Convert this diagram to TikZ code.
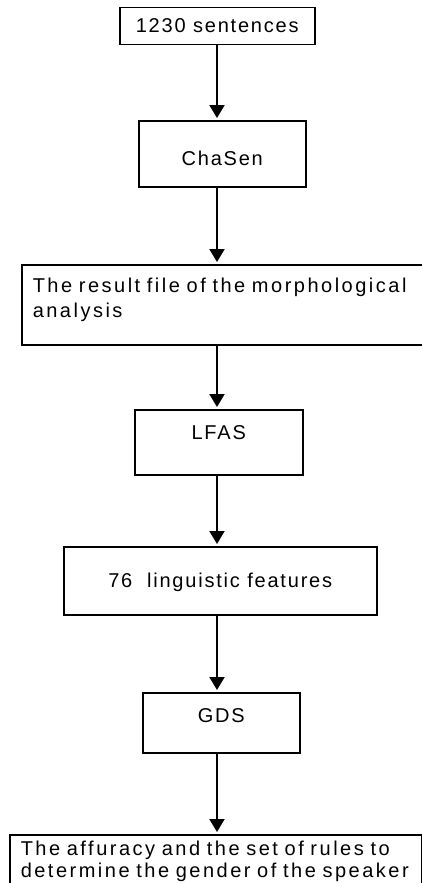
\documentclass[tikz,border=0pt]{standalone}
\usepackage{fontspec}
\setmainfont{Liberation Sans}[LetterSpace=9]
\usetikzlibrary{arrows.meta,
positioning}

\begin{document}
\begin{tikzpicture}[
    x=1pt, y=-1pt,
    >={Triangle[width=15pt,length=13pt]},
    box/.style={
        draw,
        line width=1.5pt,
        anchor=north west,
        inner xsep=0pt,
        inner ysep=0pt,
        font=\fontsize{20}{24}\selectfont
    },
    wide/.style={
        box,
        align=left,
        inner xsep=11pt,
        font=\fontsize{20}{#1}\selectfont\addfontfeature{LetterSpace=12.5}
    },
    flow/.style={->, line width=2pt, shorten >=2pt}
]
\useasboundingbox (0,0) rectangle (422,883);

\node[box, minimum width=195pt, text height=24.7pt, text depth=12.3pt] (sentences) at (119,7) {1230 sentences};

\node[box, minimum width=167pt, text height=45pt, text depth=21pt] (chasen) at (138,120) {ChaSen};

\node[wide=25, text width=398pt, text height=27.7pt, text depth=52.3pt] (morph) at (21,264) {The result file of the morphological\\analysis};

\node[box, minimum width=168pt, text height=30pt, text depth=35pt] (lfas) at (134,409) {LFAS};

\node[box, minimum width=313pt, text height=41pt, text depth=27pt] (features) at (63,546) {76\ \ linguistic features};

\node[box, minimum width=157pt, text height=30pt, text depth=30pt] (gds) at (142,692) {GDS};

\node[wide=22, text width=389.5pt, text height=21pt, text depth=60pt] (rules) at (9,834) {The affuracy and the set of rules to\\determine the gender of the speaker};

\coordinate (axis) at (217,0);

\draw[flow] (axis |- sentences.south) -- (axis |- chasen.north);
\draw[flow] (axis |- chasen.south) -- (axis |- morph.north);
\draw[flow] (axis |- morph.south) -- (axis |- lfas.north);
\draw[flow] (axis |- lfas.south) -- (axis |- features.north);
\draw[flow] (axis |- features.south) -- (axis |- gds.north);
\draw[flow] (axis |- gds.south) -- (axis |- rules.north);

\end{tikzpicture}
\end{document}
